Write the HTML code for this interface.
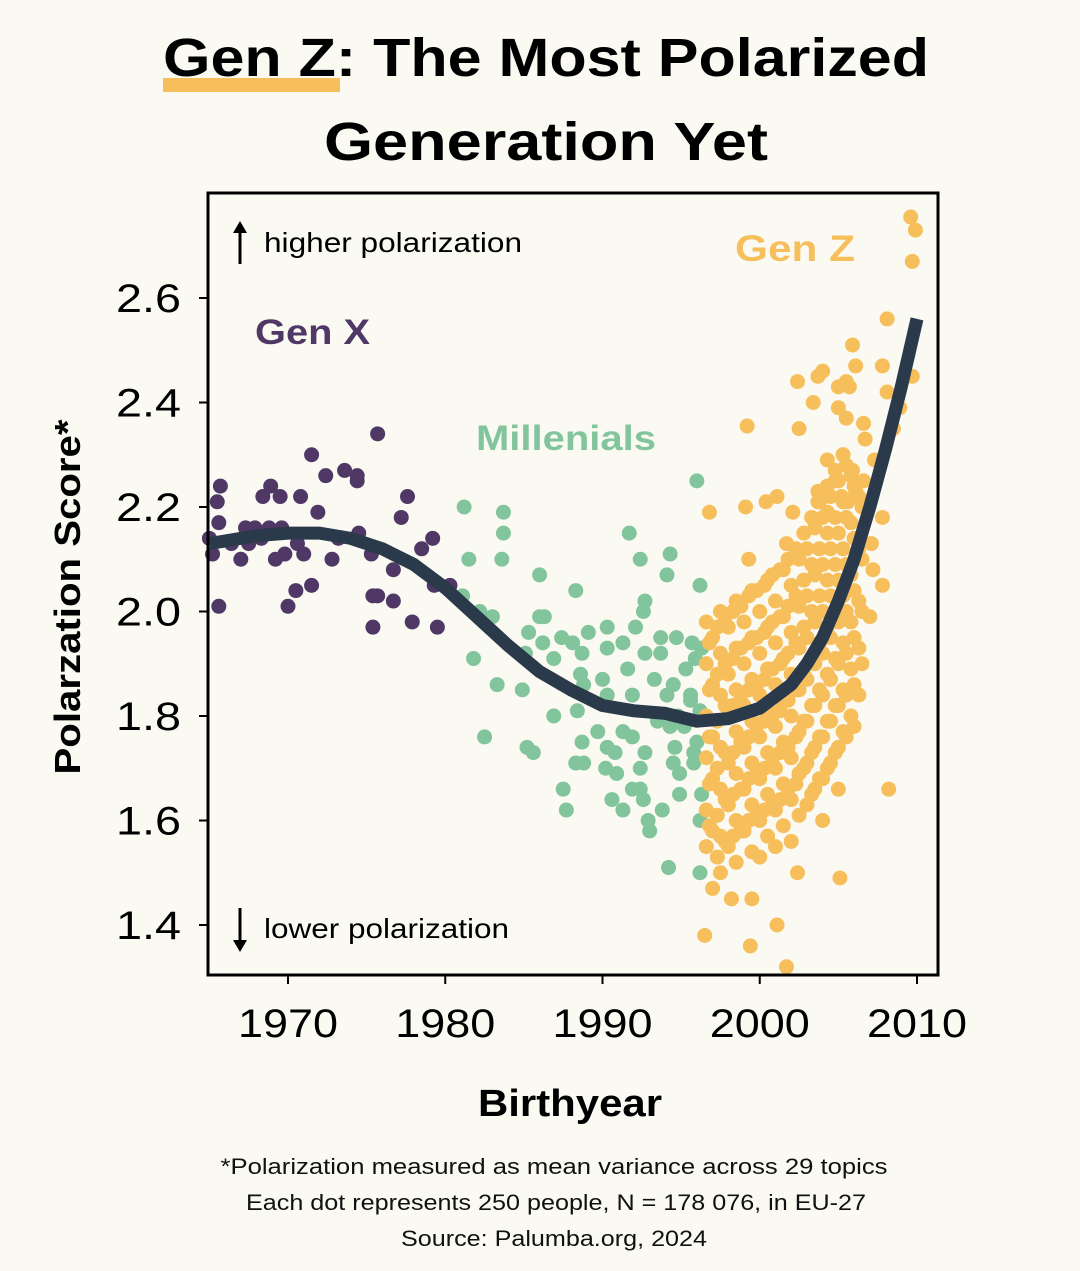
<!DOCTYPE html>
<html><head><meta charset="utf-8">
<style>
html,body{margin:0;padding:0;background:#fbfaf2;}
svg{display:block;}
text{font-family:"Liberation Sans",sans-serif;}
</style></head>
<body>
<svg id="chart" width="1080" height="1271" viewBox="0 0 1080 1271">
<rect x="0" y="0" width="1080" height="1271" fill="#fbfaf2"/>
<rect x="163" y="78" width="177" height="14" fill="#f6bf5c"/>
<text x="546" y="76" text-anchor="middle" font-size="54" font-weight="bold" fill="#000" textLength="766" lengthAdjust="spacingAndGlyphs">Gen Z: The Most Polarized</text>
<text x="546" y="160" text-anchor="middle" font-size="54" font-weight="bold" fill="#000" textLength="444" lengthAdjust="spacingAndGlyphs">Generation Yet</text>
<g id="plot"></g>
<rect x="208" y="193" width="730" height="782" fill="none" stroke="#000" stroke-width="3"/>
<g id="axes"></g>
<text x="80" y="597" transform="rotate(-90 80 597)" text-anchor="middle" font-size="36" font-weight="bold" fill="#000" textLength="355" lengthAdjust="spacingAndGlyphs">Polarzation Score*</text>
<text x="570" y="1116" text-anchor="middle" font-size="38" font-weight="bold" fill="#000" textLength="184" lengthAdjust="spacingAndGlyphs">Birthyear</text>
<text x="554" y="1174" text-anchor="middle" font-size="22" fill="#111" textLength="667" lengthAdjust="spacingAndGlyphs">*Polarization measured as mean variance across 29 topics</text>
<text x="556" y="1210" text-anchor="middle" font-size="22" fill="#111" textLength="620" lengthAdjust="spacingAndGlyphs">Each dot represents 250 people, N =  178 076, in EU-27</text>
<text x="554" y="1246" text-anchor="middle" font-size="22" fill="#111" textLength="306" lengthAdjust="spacingAndGlyphs">Source: Palumba.org, 2024</text>
<g>
<line x1="240" y1="264" x2="240" y2="230" stroke="#000" stroke-width="3"/>
<path d="M233,233 L240,221 L247,233 Z" fill="#000"/>
<text x="264" y="252" font-size="28" fill="#000" textLength="258" lengthAdjust="spacingAndGlyphs">higher polarization</text>
</g>
<g>
<line x1="240" y1="908" x2="240" y2="942" stroke="#000" stroke-width="3"/>
<path d="M233,940 L240,952 L247,940 Z" fill="#000"/>
<text x="264" y="938" font-size="28" fill="#000" textLength="245" lengthAdjust="spacingAndGlyphs">lower polarization</text>
</g>
<text x="255" y="344" font-size="35" font-weight="bold" fill="#4f3866" textLength="115" lengthAdjust="spacingAndGlyphs">Gen X</text>
<text x="476" y="450" font-size="35" font-weight="bold" fill="#82c49c" textLength="180" lengthAdjust="spacingAndGlyphs">Millenials</text>
<text x="735" y="261" font-size="37" font-weight="bold" fill="#f6bf5c" textLength="120" lengthAdjust="spacingAndGlyphs">Gen Z</text>
</svg>
<script>
const yTicks = [1.4, 1.6, 1.8, 2.0, 2.2, 2.4, 2.6];
const yTickLabels = ["1.4", "1.6", "1.8", "2.0", "2.2", "2.4", "2.6"];
const xTicks = [1970, 1980, 1990, 2000, 2010];
const xTickLabels = ["1970", "1980", "1990", "2000", "2010"];
const genXPoints = [[1965.6,2.01],[1965.2,2.11],[1965.5,2.21],[1965.7,2.24],[1965.6,2.17],[1967.0,2.10],[1967.5,2.13],[1967.9,2.16],[1968.4,2.22],[1968.9,2.24],[1969.5,2.22],[1969.2,2.10],[1969.6,2.16],[1970.0,2.01],[1970.5,2.04],[1970.6,2.13],[1970.8,2.22],[1971.0,2.11],[1971.5,2.30],[1971.5,2.05],[1971.9,2.19],[1972.4,2.26],[1972.8,2.10],[1973.2,2.14],[1973.6,2.27],[1974.4,2.26],[1974.4,2.25],[1974.5,2.15],[1975.3,2.11],[1975.4,2.03],[1975.7,2.03],[1975.7,2.34],[1975.4,1.97],[1976.7,2.08],[1976.7,2.02],[1977.2,2.18],[1977.6,2.22],[1977.9,1.98],[1978.5,2.12],[1979.2,2.14],[1979.3,2.05],[1979.5,1.97],[1980.3,2.05],[1966.4,2.13],[1968.3,2.14],[1968.8,2.16],[1969.8,2.11],[1965.0,2.14],[1967.3,2.16],[1968.0,2.15],[1969.0,2.15]];
const millenialPoints = [[1981.2,2.20],[1983.7,2.19],[1983.7,2.15],[1981.5,2.10],[1983.6,2.10],[1986.0,2.07],[1988.3,2.04],[1991.7,2.15],[1992.4,2.10],[1994.3,2.11],[1994.1,2.07],[1996.2,2.05],[1981.1,2.03],[1982.2,2.00],[1983.0,1.99],[1992.7,2.02],[1992.6,2.00],[1986.3,1.99],[1986.0,1.99],[1985.3,1.96],[1986.2,1.94],[1987.4,1.95],[1988.1,1.94],[1989.1,1.96],[1990.3,1.97],[1992.1,1.97],[1990.3,1.93],[1991.3,1.94],[1988.7,1.92],[1993.7,1.95],[1994.7,1.95],[1995.7,1.94],[1992.7,1.92],[1993.7,1.92],[1981.8,1.91],[1986.9,1.91],[1985.1,1.92],[1988.6,1.88],[1991.6,1.89],[1990.0,1.87],[1988.8,1.86],[1993.3,1.87],[1994.5,1.86],[1995.3,1.89],[1995.9,1.91],[1983.3,1.86],[1984.9,1.85],[1991.9,1.84],[1990.3,1.84],[1994.1,1.84],[1995.6,1.84],[1988.4,1.81],[1986.9,1.80],[1989.7,1.77],[1991.3,1.77],[1991.9,1.76],[1994.3,1.78],[1982.5,1.76],[1988.7,1.75],[1990.3,1.74],[1990.8,1.73],[1994.6,1.74],[1995.8,1.73],[1985.2,1.74],[1985.6,1.73],[1992.7,1.73],[1988.3,1.71],[1988.8,1.71],[1994.5,1.71],[1995.8,1.71],[1990.2,1.70],[1990.9,1.69],[1992.4,1.70],[1994.9,1.69],[1987.5,1.66],[1991.9,1.66],[1992.4,1.66],[1994.9,1.65],[1996.3,1.65],[1990.6,1.64],[1992.6,1.64],[1987.7,1.62],[1991.3,1.62],[1993.8,1.62],[1992.9,1.60],[1993.0,1.58],[1996.2,1.60],[1994.2,1.51],[1996.2,1.50],[1996.0,2.25],[1996.2,1.81],[1996.0,1.75],[1996.3,1.93],[1995.6,1.83],[1995.2,1.78],[1994.8,1.80],[1993.5,1.79]];
const genZPoints = [[2009.6,2.755],[2009.9,2.73],[2009.7,2.67],[2008.1,2.56],[2005.9,2.51],[2006.1,2.47],[2007.8,2.47],[2009.7,2.45],[2004.0,2.46],[2003.7,2.45],[2002.4,2.44],[2005.5,2.44],[2005.7,2.43],[2005.0,2.43],[2008.1,2.42],[2003.4,2.40],[2005.0,2.39],[2005.5,2.37],[2006.6,2.36],[2008.9,2.39],[2008.5,2.35],[2006.7,2.33],[1999.2,2.355],[2002.5,2.35],[2004.3,2.29],[2005.3,2.30],[2005.9,2.27],[2004.8,2.25],[2006.6,2.25],[2007.3,2.29],[2003.7,2.23],[2003.7,2.21],[2005.2,2.22],[2005.6,2.21],[2006.1,2.23],[2004.3,2.19],[2002.1,2.19],[1999.1,2.20],[2000.4,2.21],[2001.1,2.22],[1996.8,2.19],[2001.7,2.13],[1999.3,2.10],[2007.8,2.18],[2007.1,2.13],[2007.2,2.08],[2007.8,2.05],[2007.0,1.99],[2008.2,1.66],[2002.4,1.50],[2005.1,1.49],[2001.1,1.40],[1999.4,1.36],[2001.7,1.32],[1996.5,1.38],[1998.2,1.45],[1997.0,1.47],[1999.5,1.45],
[1996.6,1.98],[1996.6,1.90],[1996.6,1.80],[1996.6,1.72],[1996.6,1.62],[1996.6,1.55],
[1997.0,1.95],[1997.0,1.86],[1997.0,1.76],[1997.0,1.68],[1997.0,1.58],
[1997.5,2.00],[1997.5,1.92],[1997.5,1.84],[1997.5,1.74],[1997.5,1.66],[1997.5,1.57],[1997.5,1.50],
[1998.0,1.97],[1998.0,1.88],[1998.0,1.80],[1998.0,1.71],[1998.0,1.63],[1998.0,1.55],
[1998.5,2.02],[1998.5,1.93],[1998.5,1.85],[1998.5,1.77],[1998.5,1.69],[1998.5,1.60],[1998.5,1.52],
[1999.0,1.98],[1999.0,1.90],[1999.0,1.82],[1999.0,1.74],[1999.0,1.66],[1999.0,1.58],
[1999.5,2.04],[1999.5,1.95],[1999.5,1.87],[1999.5,1.79],[1999.5,1.71],[1999.5,1.63],[1999.5,1.54],
[2000.0,2.00],[2000.0,1.92],[2000.0,1.84],[2000.0,1.76],[2000.0,1.68],[2000.0,1.60],[2000.0,1.53],
[2000.5,2.06],[2000.5,1.97],[2000.5,1.89],[2000.5,1.81],[2000.5,1.73],[2000.5,1.65],[2000.5,1.57],
[2001.0,2.02],[2001.0,1.94],[2001.0,1.86],[2001.0,1.78],[2001.0,1.70],[2001.0,1.62],[2001.0,1.55],
[2001.5,2.08],[2001.5,1.99],[2001.5,1.91],[2001.5,1.83],[2001.5,1.75],[2001.5,1.67],[2001.5,1.59],
[2002.0,2.05],[2002.0,1.96],[2002.0,1.88],[2002.0,1.80],[2002.0,1.72],[2002.0,1.64],[2002.0,1.56],
[2002.5,2.10],[2002.5,2.01],[2002.5,1.93],[2002.5,1.85],[2002.5,1.77],[2002.5,1.69],[2002.5,1.61],
[2003.0,2.12],[2003.0,2.03],[2003.0,1.95],[2003.0,1.87],[2003.0,1.79],[2003.0,1.71],[2003.0,1.63],
[2003.5,2.16],[2003.5,2.07],[2003.5,1.98],[2003.5,1.90],[2003.5,1.82],[2003.5,1.74],[2003.5,1.66],
[2004.0,2.18],[2004.0,2.09],[2004.0,2.00],[2004.0,1.92],[2004.0,1.84],[2004.0,1.76],[2004.0,1.68],[2004.0,1.60],
[2004.5,2.22],[2004.5,2.12],[2004.5,2.03],[2004.5,1.95],[2004.5,1.87],[2004.5,1.79],[2004.5,1.71],
[2005.0,2.25],[2005.0,2.15],[2005.0,2.06],[2005.0,1.98],[2005.0,1.90],[2005.0,1.82],[2005.0,1.74],[2005.0,1.66],
[2005.5,2.28],[2005.5,2.18],[2005.5,2.09],[2005.5,2.00],[2005.5,1.92],[2005.5,1.84],[2005.5,1.76],
[2006.0,2.24],[2006.0,2.14],[2006.0,2.04],[2006.0,1.95],[2006.0,1.86],[2006.0,1.78],
[2006.5,2.20],[2006.5,2.10],[2006.5,2.00],[2006.5,1.90],
[1996.8,1.94],[1996.8,1.85],[1996.8,1.76],[1996.8,1.67],[1996.8,1.59],
[1997.3,1.97],[1997.3,1.88],[1997.3,1.79],[1997.3,1.70],[1997.3,1.61],[1997.3,1.53],
[1997.8,1.99],[1997.8,1.90],[1997.8,1.82],[1997.8,1.73],[1997.8,1.64],[1997.8,1.56],
[1998.3,2.00],[1998.3,1.91],[1998.3,1.82],[1998.3,1.73],[1998.3,1.65],[1998.3,1.57],
[1998.8,2.01],[1998.8,1.93],[1998.8,1.84],[1998.8,1.75],[1998.8,1.66],[1998.8,1.58],
[1999.3,2.03],[1999.3,1.94],[1999.3,1.85],[1999.3,1.76],[1999.3,1.68],[1999.3,1.60],
[1999.8,2.04],[1999.8,1.95],[1999.8,1.86],[1999.8,1.78],[1999.8,1.69],[1999.8,1.61],
[2000.3,2.05],[2000.3,1.96],[2000.3,1.87],[2000.3,1.79],[2000.3,1.70],[2000.3,1.62],
[2000.8,2.07],[2000.8,1.98],[2000.8,1.89],[2000.8,1.80],[2000.8,1.72],[2000.8,1.63],
[2001.3,2.08],[2001.3,1.99],[2001.3,1.90],[2001.3,1.81],[2001.3,1.73],[2001.3,1.64],
[2001.8,2.10],[2001.8,2.01],[2001.8,1.92],[2001.8,1.83],[2001.8,1.74],[2001.8,1.66],
[2002.3,2.12],[2002.3,2.03],[2002.3,1.94],[2002.3,1.85],[2002.3,1.76],[2002.3,1.67],
[2002.8,2.15],[2002.8,2.06],[2002.8,1.97],[2002.8,1.88],[2002.8,1.79],[2002.8,1.70],
[2003.3,2.18],[2003.3,2.09],[2003.3,2.00],[2003.3,1.91],[2003.3,1.82],[2003.3,1.73],[2003.3,1.65],
[2003.8,2.21],[2003.8,2.12],[2003.8,2.03],[2003.8,1.94],[2003.8,1.85],[2003.8,1.76],[2003.8,1.68],
[2004.3,2.24],[2004.3,2.15],[2004.3,2.06],[2004.3,1.97],[2004.3,1.88],[2004.3,1.79],[2004.3,1.70],
[2004.8,2.27],[2004.8,2.18],[2004.8,2.09],[2004.8,2.00],[2004.8,1.91],[2004.8,1.82],[2004.8,1.73],
[2005.3,2.30],[2005.3,2.21],[2005.3,2.12],[2005.3,2.03],[2005.3,1.94],[2005.3,1.85],[2005.3,1.77],
[2005.8,2.26],[2005.8,2.17],[2005.8,2.07],[2005.8,1.98],[2005.8,1.89],[2005.8,1.80],
[2006.3,2.22],[2006.3,2.12],[2006.3,2.02],[2006.3,1.93],[2006.3,1.84]];
const trendYears = [1965, 1968, 1970, 1972, 1974, 1976, 1978, 1980, 1982, 1984, 1986, 1988, 1990, 1992, 1994, 1996, 1998, 2000, 2002, 2003, 2004, 2005, 2006, 2007, 2008, 2009, 2010];
const trendScores = [2.13, 2.145, 2.15, 2.15, 2.14, 2.12, 2.09, 2.045, 1.99, 1.935, 1.885, 1.85, 1.82, 1.81, 1.805, 1.79, 1.795, 1.815, 1.86, 1.90, 1.95, 2.02, 2.10, 2.20, 2.31, 2.43, 2.56];

const NS = "http://www.w3.org/2000/svg";
function xScale(v){ return 288 + (v - 1970) * 15.725; }
function yScale(v){ return 298 - (v - 2.6) * 522.5; }
const plot = document.getElementById('plot');
const axes = document.getElementById('axes');

function drawDots(points, color, name){
  const g = document.createElementNS(NS, 'g');
  
  
  points.forEach(function(p){
    const c = document.createElementNS(NS, 'circle');
    c.setAttribute('cx', xScale(p[0]));
    c.setAttribute('cy', yScale(p[1]));
    c.setAttribute('r', 7.5);
    c.setAttribute('fill', color);
    
    
    g.appendChild(c);
  });
  plot.appendChild(g);
}
drawDots(genXPoints, '#4f3866', 'gen-x');
drawDots(millenialPoints, '#82c49c', 'millenial');
drawDots(genZPoints, '#f6bf5c', 'gen-z');

let d = '';
trendYears.forEach(function(yr, i){
  d += (i ? ' L' : 'M') + xScale(yr).toFixed(1) + ',' + yScale(trendScores[i]).toFixed(1);
});
const trend = document.createElementNS(NS, 'path');
trend.setAttribute('d', d);
trend.setAttribute('fill', 'none');
trend.setAttribute('stroke', '#2a3a4b');
trend.setAttribute('stroke-width', '13');
trend.setAttribute('stroke-linejoin', 'round');


plot.appendChild(trend);

yTicks.forEach(function(v, i){
  const y = yScale(v);
  const t = document.createElementNS(NS, 'line');
  t.setAttribute('x1', 199); t.setAttribute('x2', 208);
  t.setAttribute('y1', y); t.setAttribute('y2', y);
  t.setAttribute('stroke', '#000'); t.setAttribute('stroke-width', '2');
  
  
  axes.appendChild(t);
  const l = document.createElementNS(NS, 'text');
  l.setAttribute('x', 181); l.setAttribute('y', y + 14);
  l.setAttribute('text-anchor', 'end');
  l.setAttribute('font-size', '40');
  l.setAttribute('textLength', '65');
  l.setAttribute('lengthAdjust', 'spacingAndGlyphs');
  l.textContent = yTickLabels[i];
  
  
  axes.appendChild(l);
});
xTicks.forEach(function(v, i){
  const x = xScale(v);
  const t = document.createElementNS(NS, 'line');
  t.setAttribute('x1', x); t.setAttribute('x2', x);
  t.setAttribute('y1', 975); t.setAttribute('y2', 984);
  t.setAttribute('stroke', '#000'); t.setAttribute('stroke-width', '2');
  
  
  axes.appendChild(t);
  const l = document.createElementNS(NS, 'text');
  l.setAttribute('x', x); l.setAttribute('y', 1037);
  l.setAttribute('text-anchor', 'middle');
  l.setAttribute('font-size', '40');
  l.setAttribute('textLength', '100');
  l.setAttribute('lengthAdjust', 'spacingAndGlyphs');
  l.textContent = xTickLabels[i];
  
  
  axes.appendChild(l);
});
</script>
</body></html>
